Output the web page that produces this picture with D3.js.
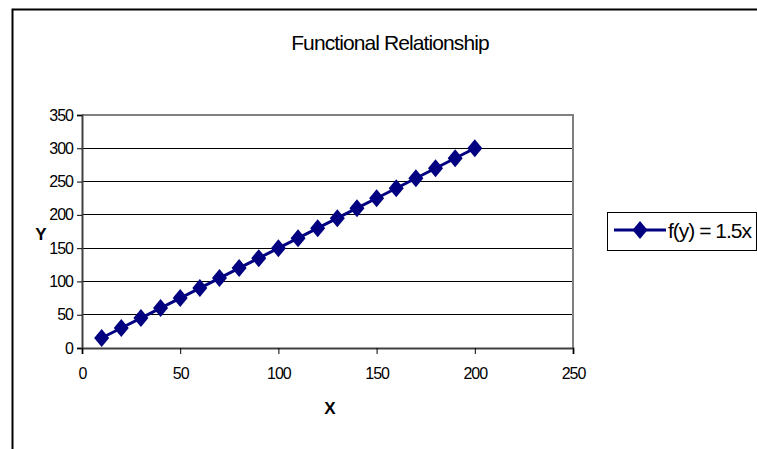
<!DOCTYPE html>
<html><head><meta charset="utf-8">
<script src="https://cdn.jsdelivr.net/npm/d3@7"></script>
<style>body{margin:0;background:#fff;}svg{display:block;font-family:"Liberation Sans",Arial,sans-serif;}</style>
</head><body>
<script>
const xValues = [10,20,30,40,50,60,70,80,90,100,110,120,130,140,150,160,170,180,190,200];
const yValues = [15,30,45,60,75,90,105,120,135,150,165,180,195,210,225,240,255,270,285,300];
const xTicks = [0,50,100,150,200,250];
const yTicks = [0,50,100,150,200,250,300,350];
const seriesName = "f(y) = 1.5x";
const title = "Functional Relationship";

const W = 757, H = 449;
const svg = d3.select("body").append("svg").attr("width", W).attr("height", H);

// outer chart border
svg.append("rect").attr("x", 12.5).attr("y", 9.5).attr("width", 800).attr("height", 500)
  .attr("fill", "#fff").attr("stroke", "#000").attr("stroke-width", 2);

const x = d3.scaleLinear().domain([0, 250]).range([82, 573]);
const y = d3.scaleLinear().domain([0, 350]).range([348, 115]);

// title
svg.append("text").attr("x", 390).attr("y", 50).attr("text-anchor", "middle")
  .attr("font-size", 21).attr("letter-spacing", -0.9).text(title);

// gridlines
svg.append("g").selectAll("line").data(yTicks.filter(d => d > 0 && d < 350)).join("line")
  .attr("x1", x(0)).attr("x2", x(250)).attr("y1", d => y(d)).attr("y2", d => y(d))
  .attr("stroke", "#000").attr("stroke-width", 1).attr("shape-rendering", "crispEdges");

// plot area border top/right gray
svg.append("path")
  .attr("d", `M${x(0)},${y(350)}H${x(250)}V${y(0)}`)
  .attr("fill", "none").attr("stroke", "#808080").attr("stroke-width", 2);

// axes
const yAxis = d3.axisLeft(y).tickValues(yTicks).tickSize(5).tickPadding(4);
const gy = svg.append("g").attr("transform", `translate(${x(0)},0)`).call(yAxis);
const xAxis = d3.axisBottom(x).tickValues(xTicks).tickSize(6).tickPadding(14);
const gx = svg.append("g").attr("transform", `translate(0,${y(0)})`).call(xAxis);
[gx, gy].forEach(g => {
  g.select(".domain").attr("stroke", "#404040").attr("stroke-width", 2);
  g.selectAll(".tick line").attr("stroke", "#000");
  g.selectAll(".tick text").attr("font-size", 16).attr("fill", "#000")
    .attr("letter-spacing", -1).attr("font-family", "Liberation Sans, Arial, sans-serif");
});

// axis titles
svg.append("text").attr("x", 41).attr("y", 240).attr("text-anchor", "middle")
  .attr("font-size", 17).attr("font-weight", "bold").text("Y");
svg.append("text").attr("x", 330).attr("y", 414).attr("text-anchor", "middle")
  .attr("font-size", 17).attr("font-weight", "bold").text("X");

// series
const color = "#000080";
const pts = xValues.map((v, i) => [v, yValues[i]]);
svg.append("path").datum(pts)
  .attr("d", d3.line().x(d => x(d[0])).y(d => y(d[1])))
  .attr("fill", "none").attr("stroke", color).attr("stroke-width", 3);
const diamond = "M0,-9L7.5,0L0,9L-7.5,0Z";
svg.append("g").selectAll("path").data(pts).join("path")
  .attr("transform", d => `translate(${x(d[0])},${y(d[1])})`)
  .attr("d", diamond).attr("fill", color);

// legend
const lg = svg.append("g");
lg.append("rect").attr("x", 607.5).attr("y", 212.5).attr("width", 149).attr("height", 38)
  .attr("fill", "#fff").attr("stroke", "#000").attr("stroke-width", 1);
lg.append("line").attr("x1", 614).attr("x2", 666).attr("y1", 230).attr("y2", 230)
  .attr("stroke", color).attr("stroke-width", 3);
lg.append("path").attr("transform", "translate(640,230)").attr("d", diamond).attr("fill", color);
lg.append("text").attr("x", 668).attr("y", 238).attr("font-size", 21).attr("letter-spacing", -1).text(seriesName);
</script>
</body></html>
